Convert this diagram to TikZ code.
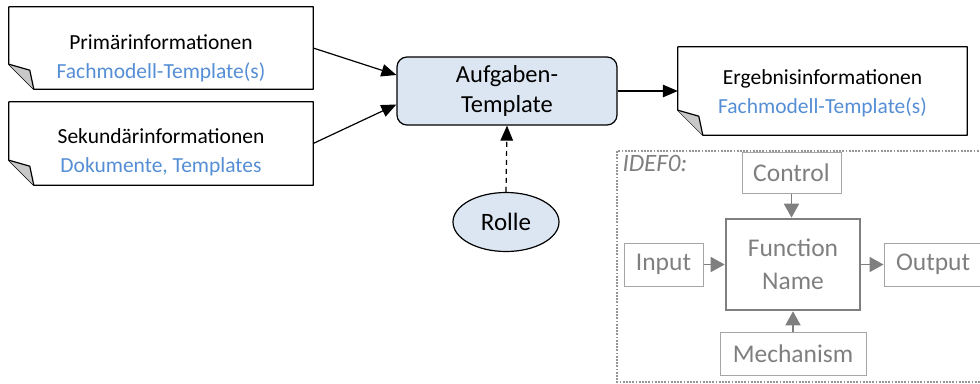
\documentclass[tikz,border=0pt]{standalone}
\usepackage{fontspec}
\setmainfont{Carlito}
\usetikzlibrary{arrows.meta,calc,shapes.geometric}

\definecolor{linkblue}{RGB}{85,142,213}
\definecolor{taskfill}{RGB}{220,230,242}
\definecolor{foldgray}{RGB}{200,200,200}
\definecolor{idefgray}{RGB}{127,127,127}
\definecolor{idefbox}{RGB}{166,166,166}
\definecolor{framegray}{RGB}{150,150,150}

\tikzset{
  docbox/.style={draw=none,minimum width=#1,inner sep=0pt},
  doctext/.style={align=center,font=\fontsize{21.5}{29}\selectfont},
  taskbox/.style={draw,line width=1.2pt,fill=taskfill,rounded corners=10pt,
    minimum width=220pt,minimum height=68pt,align=center,
    font=\fontsize{24.5}{30}\selectfont},
  rolebox/.style={draw,line width=1.2pt,fill=taskfill,ellipse,
    minimum width=106pt,minimum height=59pt,inner sep=0pt,
    font=\fontsize{25}{30}\selectfont},
  flow/.style={line width=1.2pt,-{Triangle[length=15pt,width=12.5pt]}},
  idefbox/.style={draw=idefbox,line width=1pt,text=idefgray,inner sep=0pt,
    font=\fontsize{25.5}{33}\selectfont,align=center},
  idefarrow/.style={draw=idefgray,line width=1.8pt,
    -{Triangle[length=14pt,width=15pt]},idefgray},
  frame/.style={draw=framegray,line width=2pt,dash pattern=on 1.8pt off 1.4pt}
}

% document outline with a folded lower-left corner
\newcommand{\foldeddoc}[1]{%
  \draw[line width=1.2pt,line join=round]
    (#1.north west) -- (#1.north east) -- (#1.south east)
    -- ($(#1.south west)+(25pt,0pt)$) -- ($(#1.south west)+(0pt,25pt)$) -- cycle;
  \draw[line width=1.2pt,line join=round,fill=foldgray]
    ($(#1.south west)+(0pt,25pt)$) -- ($(#1.south west)+(21pt,19pt)$)
    -- ($(#1.south west)+(25pt,0pt)$);
}

\begin{document}
\begin{tikzpicture}[x=1pt,y=-1pt]
\useasboundingbox (0,0) rectangle (980,383);
\clip (0,0) rectangle (980,383);

% input and output documents
\node[docbox=304pt,minimum height=82pt] (prim) at (161,48) {};
\node[docbox=304pt,minimum height=83pt] (sek) at (161,143.5) {};
\node[docbox=289pt,minimum height=88pt] (erg) at (822.5,91) {};
\foldeddoc{prim}
\foldeddoc{sek}
\foldeddoc{erg}
\node[doctext] (primtext) at (161,58.5) {Primärinformationen\\\textcolor{linkblue}{Fachmodell-Template(s)}};
\node[doctext] (sektext) at (161,152.5) {Sekundärinformationen\\\textcolor{linkblue}{Dokumente, Templates}};
\node[doctext] (ergtext) at (822.5,93.5) {Ergebnisinformationen\\\textcolor{linkblue}{Fachmodell-Template(s)}};

% task and role
\node[taskbox] (task) at (507,91) {Aufgaben-\\Template};
\node[rolebox] (rolle) at (506,222) {Rolle};

\draw[flow] (prim.east) -- ($(task.west)+(0pt,16pt)$);
\draw[flow] (sek.east) -- ($(task.west)+(0pt,-13.5pt)$);
\draw[flow] (task.east) -- (erg.west);
\draw[flow,dash pattern=on 5pt off 4pt] (rolle.north) -- (task.south);

% IDEF0 legend, running past the right edge
\draw[frame] (617,151) rectangle (1010,382);
\node[anchor=west,text=idefgray,font=\fontsize{25}{30}\selectfont\itshape] (ideflabel) at (619,163) {IDEF0:};

\node[idefbox,minimum width=99pt,minimum height=41pt] (ctrl) at (791.5,172.5) {Control};
\node[idefbox,draw=idefgray,line width=2.6pt,minimum width=134pt,minimum height=91pt] (fn) at (793,264.5) {Function\\Name};
\node[idefbox,minimum width=79pt,minimum height=43pt] (inp) at (663.5,264.5) {Input};
\node[idefbox,minimum width=120pt,minimum height=43pt,text width=96pt,align=left] (out) at (944,264.5) {Output};
\node[idefbox,minimum width=146pt,minimum height=43pt] (mech) at (793,353.5) {Mechanism};

\draw[idefarrow] (ctrl.south) -- (ctrl.south |- fn.north);
\draw[idefarrow] (inp.east) -- (fn.west);
\draw[idefarrow] (fn.east) -- (out.west);
\draw[idefarrow] (mech.north) -- (fn.south);
\end{tikzpicture}
\end{document}
